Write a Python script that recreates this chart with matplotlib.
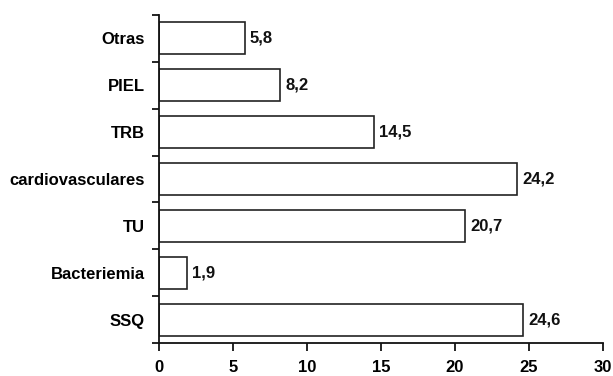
import matplotlib
matplotlib.use("Agg")
import matplotlib.pyplot as plt

categories = ["SSQ", "Bacteriemia", "TU", "cardiovasculares", "TRB", "PIEL", "Otras"]
values = [24.6, 1.9, 20.7, 24.2, 14.5, 8.2, 5.8]
value_labels = ["24,6", "1,9", "20,7", "24,2", "14,5", "8,2", "5,8"]
xticks = [0, 5, 10, 15, 20, 25, 30]

plt.rcParams['font.family'] = ['Liberation Sans', 'DejaVu Sans']
plt.rcParams['font.weight'] = 'bold'

fig = plt.figure(figsize=(6.13, 3.76), dpi=100)
ax = fig.add_axes([159/613, 1-343/376, 444/613, 328/376])

pos = list(range(len(categories)))
ax.barh(pos, values, height=0.68, color='white', edgecolor='#222222', linewidth=1.2)
for p, v, lab in zip(pos, values, value_labels):
    ax.text(v + 0.35, p, lab, va='center', ha='left', fontsize=12, fontweight='bold', color='#111111')

ax.set_xlim(0, 30)
ax.set_ylim(-0.5, len(categories) - 0.5)
ax.set_xticks(xticks)
ax.set_xticklabels([str(t) for t in xticks], fontsize=12, fontweight='bold')
ax.set_yticks([p - 0.5 for p in pos] + [len(categories) - 0.5])
ax.set_yticklabels([])
ax.set_yticks(pos, minor=True)
ax.set_yticklabels(categories, minor=True, fontsize=12, fontweight='bold')
ax.tick_params(axis='y', which='minor', length=0, pad=10)
ax.tick_params(axis='y', which='major', length=5, width=1.2, direction='out')
ax.tick_params(axis='x', length=6, width=1.2, direction='out', pad=6)

for s in ['top', 'right']:
    ax.spines[s].set_visible(False)
for s in ['left', 'bottom']:
    ax.spines[s].set_linewidth(1.3)
    ax.spines[s].set_color('#111111')

fig.savefig('out.png', dpi=100, facecolor='white')
